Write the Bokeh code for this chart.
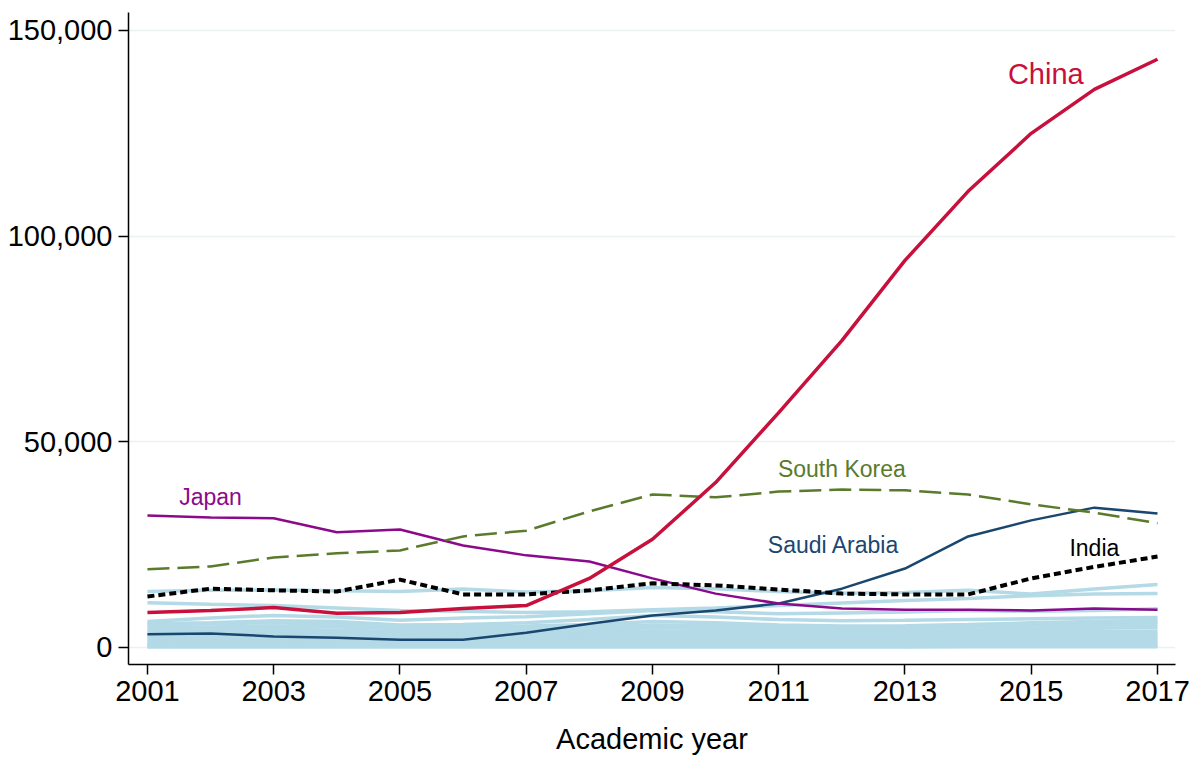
from bokeh.plotting import figure
from bokeh.models import FixedTicker, NumeralTickFormatter, Label
from bokeh.embed import file_html
from bokeh.resources import INLINE

years = list(range(2001, 2018))

# Highlighted countries
china = [8500, 9000, 9700, 8300, 8500, 9500, 10200, 16800, 26300, 40100, 57100, 74600, 94100, 110900, 125000, 135700, 143000]
japan = [32100, 31600, 31400, 28000, 28700, 24800, 22400, 20900, 16800, 13100, 10700, 9500, 9200, 9200, 9000, 9500, 9200]
south_korea = [19000, 19700, 21900, 22900, 23600, 27000, 28400, 33100, 37200, 36500, 37900, 38400, 38200, 37200, 34800, 32800, 30200]
saudi_arabia = [3200, 3400, 2700, 2400, 1900, 1900, 3600, 5800, 7800, 9000, 10700, 14300, 19200, 27000, 30900, 34000, 32600]
india = [12400, 14300, 13900, 13600, 16500, 12900, 12900, 13900, 15600, 15100, 14100, 13100, 12900, 12900, 16800, 19600, 22100]

# Other countries (light blue background lines)
oth_a = [13600, 13900, 14000, 13800, 13600, 14200, 13500, 13800, 14600, 14300, 13600, 13200, 13400, 13900, 13000, 14200, 15300]
oth_b = [10900, 10500, 10200, 9600, 9000, 8800, 8500, 8700, 9200, 9600, 10200, 10800, 11400, 11900, 12600, 13000, 13100]
oth_c = [6300, 7200, 7800, 7400, 6600, 7200, 7500, 8200, 9000, 8700, 8200, 8400, 8600, 9000, 8800, 9000, 9400]
oth_d = [5800, 6000, 6500, 6300, 5500, 5600, 6000, 6800, 7800, 7400, 6800, 6500, 6600, 6800, 7000, 7200, 7300]
oth_e = [5500, 5800, 6000, 5600, 5200, 5000, 5200, 5600, 6300, 6000, 5500, 5200, 5300, 5600, 6000, 6300, 6600]
oth_f = [4800, 5000, 5200, 5000, 4600, 4400, 4600, 5000, 5500, 5300, 4900, 4700, 4900, 5300, 5800, 6000, 6200]
oth_g = [4200, 4300, 4500, 4200, 3900, 3800, 4000, 4300, 4800, 4600, 4300, 4200, 4500, 4900, 5200, 5400, 5600]
oth_h = [3600, 3700, 3800, 3600, 3400, 3300, 3400, 3700, 4000, 3900, 3700, 3600, 3800, 4200, 4500, 4700, 4900]
oth_i = [3000, 3100, 3200, 3000, 2800, 2800, 2900, 3100, 3400, 3300, 3200, 3100, 3300, 3600, 3800, 3900, 4000]
oth_j = [2500, 2600, 2700, 2500, 2400, 2300, 2400, 2600, 2800, 2700, 2600, 2600, 2800, 3000, 3200, 3300, 3400]
oth_k = [2000, 2100, 2100, 2000, 1900, 1900, 2000, 2100, 2300, 2200, 2100, 2100, 2300, 2500, 2600, 2700, 2800]
oth_l = [1500, 1600, 1600, 1500, 1400, 1400, 1500, 1600, 1700, 1700, 1600, 1600, 1700, 1900, 2000, 2100, 2200]
oth_m = [1000, 1100, 1100, 1000, 1000, 1000, 1000, 1100, 1200, 1200, 1100, 1100, 1200, 1300, 1400, 1500, 1500]
oth_n = [600, 600, 600, 600, 600, 600, 600, 700, 700, 700, 700, 700, 800, 800, 900, 900, 1000]
oth_o = [300, 300, 300, 300, 300, 300, 300, 300, 400, 400, 400, 400, 400, 400, 500, 500, 500]
oth_p = [100, 100, 100, 100, 100, 100, 100, 100, 100, 100, 100, 100, 100, 200, 200, 200, 200]
others = [oth_a, oth_b, oth_c, oth_d, oth_e, oth_f, oth_g, oth_h, oth_i, oth_j,
          oth_k, oth_l, oth_m, oth_n, oth_o, oth_p]

y_ticks = [0, 50000, 100000, 150000]
x_ticks = list(range(2001, 2018, 2))

label_texts = ["China", "Japan", "South Korea", "Saudi Arabia", "India"]
label_x = [2015.23, 2002.0, 2012.0, 2011.87, 2016.0]
label_y = [139500, 36700, 43500, 25000, 24300]

FONT = "Liberation Sans"
C_CHINA = "#c8103c"
C_JAPAN = "#8b0a8b"
C_KOREA = "#5a7a2c"
C_SAUDI = "#1a476f"
C_INDIA = "#000000"
C_OTHER = "#b3dae6"

p = figure(width=1190, height=757, output_backend="svg", toolbar_location=None,
           x_range=(2000.7, 2017.285), y_range=(-4133, 154376),
           min_border_left=128, min_border_right=15, min_border_top=12, min_border_bottom=10)
p.outline_line_color = None
p.background_fill_color = "white"
p.border_fill_color = "white"

p.xgrid.grid_line_color = None
p.ygrid.grid_line_color = "#eaf2f3"
p.ygrid.grid_line_width = 1.5

for ax in (p.xaxis[0], p.yaxis[0]):
    ax.axis_line_color = "black"
    ax.axis_line_width = 1.5
    ax.major_tick_line_color = "black"
    ax.major_tick_line_width = 1.5
    ax.major_tick_in = 0
    ax.major_tick_out = 10
    ax.minor_tick_line_color = None
    ax.major_label_text_font = FONT
    ax.major_label_text_font_size = "29px"
    ax.major_label_text_color = "black"

p.yaxis[0].ticker = FixedTicker(ticks=y_ticks)
p.yaxis[0].formatter = NumeralTickFormatter(format="0,0")
p.yaxis[0].major_label_standoff = 6
p.xaxis[0].ticker = FixedTicker(ticks=x_ticks)
p.xaxis[0].major_label_standoff = 6
p.xaxis[0].axis_label = "Academic year"
p.xaxis[0].axis_label_text_font = FONT
p.xaxis[0].axis_label_text_font_size = "29px"
p.xaxis[0].axis_label_text_font_style = "normal"
p.xaxis[0].axis_label_text_color = "black"
p.xaxis[0].axis_label_standoff = 19

p.multi_line(xs=[years] * len(others), ys=others, line_color=C_OTHER, line_width=3.5)

p.line(years, saudi_arabia, line_color=C_SAUDI, line_width=2.5)
p.line(years, japan, line_color=C_JAPAN, line_width=2.5)
p.line(years, south_korea, line_color=C_KOREA, line_width=2.5, line_dash="22 8")
p.line(years, india, line_color=C_INDIA, line_width=4, line_dash="7 4")
p.line(years, china, line_color=C_CHINA, line_width=3.5)

label_colors = [C_CHINA, C_JAPAN, C_KOREA, C_SAUDI, C_INDIA]
label_sizes = ["29px", "23px", "23px", "23px", "23px"]
for t, x, y, c, s in zip(label_texts, label_x, label_y, label_colors, label_sizes):
    p.add_layout(Label(x=x, y=y, text=t, text_color=c, text_font=FONT, text_font_size=s,
                       text_align="center", text_baseline="middle"))

open("out.html", "w").write(file_html(p, INLINE))
